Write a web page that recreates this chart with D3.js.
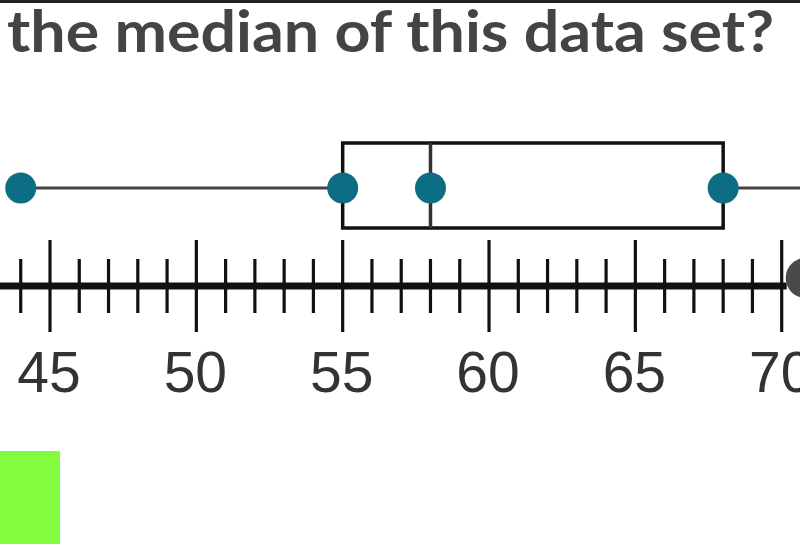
<!DOCTYPE html>
<html>
<head>
<meta charset="utf-8">
<script src="https://cdn.jsdelivr.net/npm/d3@7"></script>
<style>
  html, body { margin: 0; padding: 0; background: #fff; }
  svg { display: block; }
</style>
</head>
<body>
<svg id="chart" width="800" height="544"></svg>
<script>
// ---- data ----
const titleText = "the median of this data set?";
const majorTicks = [45, 50, 55, 60, 65, 70];
const minorTicks = [44, 46, 47, 48, 49, 51, 52, 53, 54, 56, 57, 58, 59, 61, 62, 63, 64, 66, 67, 68, 69];
const statNames = ["min", "q1", "median", "q3", "max"];
const statValues = [44, 55, 58, 68, 72];

const stats = {};
statNames.forEach((n, i) => stats[n] = statValues[i]);

const svg = d3.select("#chart");
const W = 800, H = 544;

const x = d3.scaleLinear().domain([45, 70]).range([50, 781.7]);

// top border
svg.append("rect").attr("x", 0).attr("y", 0).attr("width", W).attr("height", 3).attr("fill", "#222");

// title
svg.append("text")
  .attr("x", 7).attr("y", 52)
  .attr("font-family", "Lato, 'Open Sans', sans-serif")
  .attr("font-weight", 700)
  .attr("font-size", 58)
  .attr("fill", "#444")
  .attr("textLength", 767)
  .attr("lengthAdjust", "spacingAndGlyphs")
  .text(titleText);

// ---- box plot ----
const cy = 188, boxTop = 143, boxBottom = 228;
const g = svg.append("g");

// whiskers
g.selectAll("line.whisker")
  .data([[stats.min, stats.q1], [stats.q3, stats.max]])
  .join("line")
  .attr("class", "whisker")
  .attr("x1", d => x(d[0])).attr("x2", d => x(d[1]))
  .attr("y1", cy).attr("y2", cy)
  .attr("stroke", "#444").attr("stroke-width", 3);

// box
g.append("rect")
  .attr("x", x(stats.q1)).attr("y", boxTop)
  .attr("width", x(stats.q3) - x(stats.q1)).attr("height", boxBottom - boxTop)
  .attr("fill", "#fff").attr("stroke", "#111").attr("stroke-width", 3.5);

// median
g.append("line")
  .attr("x1", x(stats.median)).attr("x2", x(stats.median))
  .attr("y1", boxTop).attr("y2", boxBottom)
  .attr("stroke", "#333").attr("stroke-width", 3.5);

// points
g.selectAll("circle.pt")
  .data(statValues)
  .join("circle")
  .attr("class", "pt")
  .attr("cx", d => x(d)).attr("cy", cy).attr("r", 15.5)
  .attr("fill", "#0d6e83");

// ---- number line ----
const axisY = 286;
const ax = svg.append("g");
ax.append("line")
  .attr("x1", 0).attr("x2", x(70) + 5)
  .attr("y1", axisY).attr("y2", axisY)
  .attr("stroke", "#111").attr("stroke-width", 7);

ax.selectAll("line.minor")
  .data(minorTicks)
  .join("line")
  .attr("class", "minor")
  .attr("x1", d => x(d)).attr("x2", d => x(d))
  .attr("y1", 259).attr("y2", 313)
  .attr("stroke", "#111").attr("stroke-width", 3.2);

ax.selectAll("line.major")
  .data(majorTicks)
  .join("line")
  .attr("class", "major")
  .attr("x1", d => x(d)).attr("x2", d => x(d))
  .attr("y1", 240).attr("y2", 332)
  .attr("stroke", "#111").attr("stroke-width", 3.2);

ax.selectAll("text.lbl")
  .data(majorTicks)
  .join("text")
  .attr("class", "lbl")
  .attr("x", d => x(d) - 1).attr("y", 392)
  .attr("text-anchor", "middle")
  .attr("font-family", "'Liberation Sans', Arial, sans-serif")
  .attr("font-size", 57)
  .attr("fill", "#333")
  .text(d => d);

// end handle
ax.append("circle")
  .attr("cx", x(70) + 24).attr("cy", 278).attr("r", 20)
  .attr("fill", "#4a4a4a");

// green swatch
svg.append("rect")
  .attr("x", 0).attr("y", 451).attr("width", 60).attr("height", H - 451)
  .attr("fill", "#83fc3f");
</script>
</body>
</html>
